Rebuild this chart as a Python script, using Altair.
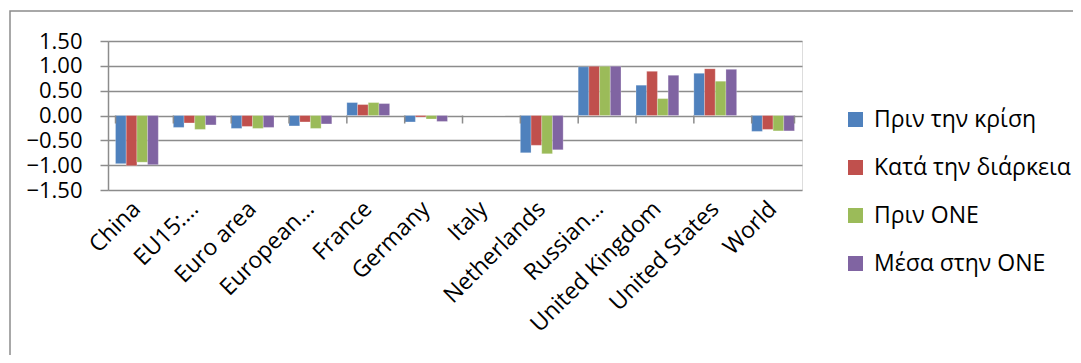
import altair as alt
import pandas as pd

categories = ["China", "EU15:…", "Euro area", "European…", "France", "Germany",
              "Italy", "Netherlands", "Russian…", "United Kingdom", "United States", "World"]
series = ["Πριν την κρίση", "Κατά την διάρκεια", "Πριν ΟΝΕ", "Μέσα στην ΟΝΕ"]
colors = ["#4F81BD", "#C0504D", "#9BBB59", "#8064A2"]

before_crisis = [-0.97, -0.24, -0.26, -0.21, 0.26, -0.13, 0.0, -0.75, 0.98, 0.61, 0.85, -0.32]
during_crisis = [-1.01, -0.15, -0.22, -0.13, 0.22, -0.03, 0.0, -0.60, 0.99, 0.89, 0.94, -0.28]
before_emu    = [-0.94, -0.28, -0.26, -0.26, 0.26, -0.07, 0.0, -0.77, 0.99, 0.34, 0.69, -0.31]
in_emu        = [-0.99, -0.19, -0.24, -0.17, 0.24, -0.12, 0.0, -0.69, 0.99, 0.81, 0.93, -0.31]

y_ticks = [-1.5, -1.0, -0.5, 0.0, 0.5, 1.0, 1.5]

rows = []
for s, vals in zip(series, [before_crisis, during_crisis, before_emu, in_emu]):
    for c, v in zip(categories, vals):
        rows.append({"cat": c, "series": s, "value": v})
df = pd.DataFrame(rows)

FONT = "Open Sans"
GRAY = "#8C8C8C"
W, H = 694, 149

xscale = alt.Scale(domain=categories, paddingInner=0.26, paddingOuter=0.13)
yscale = alt.Scale(domain=[-1.5, 1.5], nice=False)

x_axis = alt.Axis(labelAngle=-45, labelAlign="right", labelBaseline="middle",
                  labelPadding=15, ticks=False, domain=False, labelFont=FONT,
                  labelFontSize=23, labelColor="black", labelLimit=400,
                  labelOverlap=False, labelBound=False, title=None)
y_axis = alt.Axis(values=y_ticks, format=".2f", grid=True, gridColor=GRAY,
                  gridWidth=1.5, domain=True, domainColor=GRAY, domainWidth=1.5,
                  ticks=True, tickColor=GRAY, tickWidth=1.5, tickSize=8,
                  labelPadding=18, labelFont=FONT, labelFontSize=22,
                  labelColor="black", labelOverlap=False, labelBound=False,
                  labelFlush=False, title=None)

bars = alt.Chart(df).mark_bar(stroke="white", strokeWidth=0.4, strokeOpacity=0.6).encode(
    x=alt.X("cat:N", scale=xscale, sort=categories, axis=x_axis),
    xOffset=alt.XOffset("series:N", sort=series, scale=alt.Scale(paddingInner=0, paddingOuter=0)),
    y=alt.Y("value:Q", scale=yscale, axis=y_axis),
    color=alt.Color("series:N", sort=series,
                    scale=alt.Scale(domain=series, range=colors),
                    legend=alt.Legend(title=None, orient="none", legendX=736, legendY=67,
                                      symbolType="square", symbolSize=225,
                                      symbolStrokeWidth=0, labelFont=FONT,
                                      labelFontSize=23, labelColor="black",
                                      labelOffset=7, rowPadding=24, labelLimit=400)),
)

tick_df = pd.DataFrame({"cat": categories})
ticks_start = alt.Chart(tick_df).mark_rule(color=GRAY, strokeWidth=1.5, y2Offset=8).encode(
    x=alt.X("cat:N", scale=xscale, sort=categories, bandPosition=0, axis=x_axis),
    y=alt.YDatum(0, scale=yscale, axis=y_axis), y2=alt.Y2Datum(0),
)
ticks_end = alt.Chart(tick_df).transform_filter(
    alt.datum.cat == categories[-1]
).mark_rule(color=GRAY, strokeWidth=1.5, y2Offset=8).encode(
    x=alt.X("cat:N", scale=xscale, sort=categories, bandPosition=1, axis=x_axis),
    y=alt.YDatum(0, scale=yscale, axis=y_axis), y2=alt.Y2Datum(0),
)

frame = alt.Chart(pd.DataFrame({"k": [0]})).mark_rect(
    fill=None, stroke=GRAY, strokeWidth=1.5, clip=False
).encode(
    x=alt.value(-98), x2=alt.value(W + 300),
    y=alt.value(-30), y2=alt.value(H + 250),
)

chart = alt.layer(frame, bars, ticks_start, ticks_end).properties(
    width=W, height=H,
    autosize=alt.AutoSizeParams(type="none"),
    padding={"left": 100, "top": 33, "right": 271, "bottom": 165},
).configure_view(stroke=None).configure(background="white")

chart.save("out.html", embed_options={"renderer": "svg", "actions": False})
